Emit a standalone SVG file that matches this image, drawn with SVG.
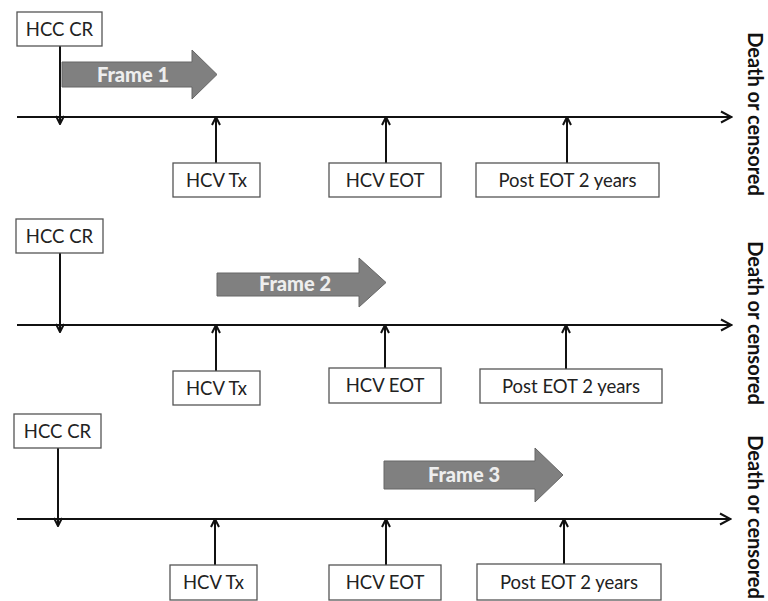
<svg xmlns="http://www.w3.org/2000/svg" width="768" height="601" viewBox="0 0 768 601">
<style>
.box{fill:#fff;stroke:#555;stroke-width:1.3}
.lbl{font-family:Lato,"Liberation Sans",sans-serif;font-size:18.5px;fill:#222;text-anchor:middle}
.ln{stroke:#111;stroke-width:2;fill:none}
.frame{fill:#808080;stroke:#666;stroke-width:1}
.ftxt{font-family:Lato,"Liberation Sans",sans-serif;font-size:20px;font-weight:900;fill:#eee;text-anchor:middle}
.side{font-family:Lato,"Liberation Sans",sans-serif;font-size:20px;font-weight:bold;fill:#111;text-anchor:middle}
</style>
<defs>
<marker id="ah" viewBox="0 0 10 10" refX="9" refY="5" markerWidth="10" markerHeight="10" markerUnits="userSpaceOnUse" orient="auto">
<path d="M1,1 L9,5 L1,9" fill="none" stroke="#111" stroke-width="2"/>
</marker>
<marker id="ahL" viewBox="0 0 14 14" refX="13" refY="7" markerWidth="14" markerHeight="14" markerUnits="userSpaceOnUse" orient="auto">
<path d="M2,1.5 L12.5,7 L2,12.5" fill="none" stroke="#111" stroke-width="2"/>
</marker>
</defs>

<g id="connectors">
<!-- panel 1 -->
<line class="ln" x1="17" y1="117" x2="732" y2="117" marker-end="url(#ahL)"/>
<line class="ln" x1="60" y1="46" x2="60" y2="124" marker-end="url(#ah)"/>
<line class="ln" x1="216" y1="163" x2="216" y2="117" marker-end="url(#ah)"/>
<line class="ln" x1="386" y1="163" x2="386" y2="117" marker-end="url(#ah)"/>
<line class="ln" x1="567" y1="163" x2="567" y2="117" marker-end="url(#ah)"/>
<!-- panel 2 -->
<line class="ln" x1="17" y1="325" x2="732" y2="325" marker-end="url(#ahL)"/>
<line class="ln" x1="60" y1="253" x2="60" y2="332" marker-end="url(#ah)"/>
<line class="ln" x1="216" y1="371" x2="216" y2="325" marker-end="url(#ah)"/>
<line class="ln" x1="385" y1="368" x2="385" y2="325" marker-end="url(#ah)"/>
<line class="ln" x1="566" y1="369" x2="566" y2="325" marker-end="url(#ah)"/>
<!-- panel 3 -->
<line class="ln" x1="17" y1="519" x2="731" y2="519" marker-end="url(#ahL)"/>
<line class="ln" x1="58" y1="448" x2="58" y2="526" marker-end="url(#ah)"/>
<line class="ln" x1="215" y1="565" x2="215" y2="519" marker-end="url(#ah)"/>
<line class="ln" x1="386" y1="565" x2="386" y2="519" marker-end="url(#ah)"/>
<line class="ln" x1="564" y1="564" x2="564" y2="519" marker-end="url(#ah)"/>
</g>

<!-- Panel 1 -->
<g id="p1-hcc"><rect class="box" x="17" y="12" width="85" height="34"/><text class="lbl" x="59.5" y="35.5">HCC CR</text></g>
<g id="p1-frame"><path class="frame" d="M62,62 H192 V50 L217,74.5 L192,99 V87 H62 Z"/><text class="ftxt" x="133" y="82">Frame 1</text></g>
<g id="p1-tx"><rect class="box" x="173" y="163" width="87" height="34"/><text class="lbl" x="216.5" y="186.5">HCV Tx</text></g>
<g id="p1-eot"><rect class="box" x="329" y="163" width="112" height="34"/><text class="lbl" x="385" y="186.5">HCV EOT</text></g>
<g id="p1-post"><rect class="box" x="476" y="163" width="183" height="34"/><text class="lbl" x="567.5" y="186.5">Post EOT 2 years</text></g>
<g id="p1-death"><text class="side" transform="translate(755,114) rotate(90)" y="7">Death or censored</text></g>

<!-- Panel 2 -->
<g id="p2-hcc"><rect class="box" x="16" y="219" width="87" height="34"/><text class="lbl" x="59.5" y="242.5">HCC CR</text></g>
<g id="p2-frame"><path class="frame" d="M217,273 H359 V258 L386,282.5 L359,307 V296 H217 Z"/><text class="ftxt" x="295" y="291">Frame 2</text></g>
<g id="p2-tx"><rect class="box" x="173" y="371" width="87" height="34"/><text class="lbl" x="216.5" y="394.5">HCV Tx</text></g>
<g id="p2-eot"><rect class="box" x="329" y="368" width="112" height="35"/><text class="lbl" x="385" y="392">HCV EOT</text></g>
<g id="p2-post"><rect class="box" x="480" y="369" width="182" height="34"/><text class="lbl" x="571" y="392.5">Post EOT 2 years</text></g>
<g id="p2-death"><text class="side" transform="translate(755,323) rotate(90)" y="7">Death or censored</text></g>

<!-- Panel 3 -->
<g id="p3-hcc"><rect class="box" x="14" y="414" width="87" height="34"/><text class="lbl" x="57.5" y="437.5">HCC CR</text></g>
<g id="p3-frame"><path class="frame" d="M384,461 H535 V448 L563,475 L535,502 V489 H384 Z"/><text class="ftxt" x="464" y="482">Frame 3</text></g>
<g id="p3-tx"><rect class="box" x="170" y="565" width="87" height="35"/><text class="lbl" x="213.5" y="589">HCV Tx</text></g>
<g id="p3-eot"><rect class="box" x="329" y="565" width="112" height="35"/><text class="lbl" x="385" y="589">HCV EOT</text></g>
<g id="p3-post"><rect class="box" x="477" y="564" width="184" height="36"/><text class="lbl" x="569" y="588.5">Post EOT 2 years</text></g>
<g id="p3-death"><text class="side" transform="translate(755,517) rotate(90)" y="7">Death or censored</text></g>
</svg>
